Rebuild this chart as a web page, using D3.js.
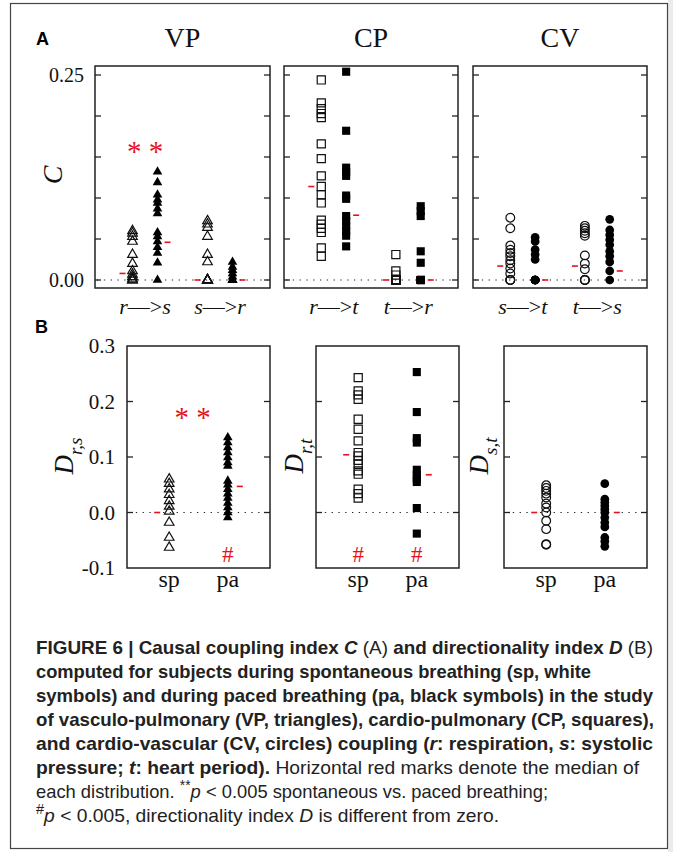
<!DOCTYPE html>
<html>
<head>
<meta charset="utf-8">
<script src="https://d3js.org/d3.v7.min.js"></script>
<style>
  body { margin: 0; background: #fff; }
  .serif { font-family: "Liberation Serif", "Times New Roman", serif; fill: #111; }
  .box { fill: none; stroke: #222; stroke-width: 1.5px; }
  .tick { stroke: #222; stroke-width: 1.3px; }
  .zero { stroke: #222; stroke-width: 1.2px; stroke-dasharray: 1.3,5.5; }
  .median { stroke: #e8101a; stroke-width: 1.6px; }
  .open { fill: none; stroke: #111; stroke-width: 1.2px; }
  .filled { fill: #000; stroke: none; }
  .cap { font-family: "Liberation Sans Narrow", "Liberation Sans", Arial, sans-serif; font-size: 18.5px; fill: #222; }
</style>
</head>
<body>
<svg width="673" height="852"></svg>
<script>
// ---------- data : panel A, coupling index C ----------
var titlesA = ["VP", "CP", "CV"];
var catsA = [["r", "s", "s", "r"], ["r", "t", "t", "r"], ["s", "t", "t", "s"]]; // from,to pairs
var ticksA = [0, 0.05, 0.10, 0.15, 0.20, 0.25];
var tickLabelsA = ["0.00", "", "", "", "", "0.25"];

// VP (triangles)
var vpRS_sp = [0.060, 0.057, 0.053, 0.047, 0.031, 0.020, 0.011, 0.007, 0.004, 0.002, 0, 0];
var vpRS_pa = [0.132, 0.119, 0.104, 0.098, 0.094, 0.087, 0.081, 0.058, 0.053, 0.047, 0.040, 0.033, 0.021, 0];
var vpSR_sp = [0.072, 0.068, 0.064, 0.053, 0.031, 0.022, 0, 0, 0, 0, 0, 0, 0];
var vpSR_pa = [0.022, 0.016, 0.012, 0.008, 0.004, 0, 0, 0, 0, 0, 0];
var vpMedA = [0.008, 0.046, 0, 0];
// CP (squares)
var cpRT_sp = [0.244, 0.216, 0.209, 0.203, 0.198, 0.166, 0.148, 0.127, 0.114, 0.104, 0.094, 0.073, 0.068, 0.063, 0.058, 0.039, 0.029];
var cpRT_pa = [0.254, 0.182, 0.137, 0.132, 0.127, 0.103, 0.099, 0.078, 0.072, 0.066, 0.060, 0.054, 0.041];
var cpTR_sp = [0.031, 0.011, 0.006, 0, 0, 0, 0, 0, 0, 0];
var cpTR_pa = [0.090, 0.084, 0.078, 0.035, 0.021, 0, 0, 0, 0, 0, 0, 0];
var cpMedA = [0.114, 0.079, 0, 0];
// CV (circles)
var cvST_sp = [0.076, 0.063, 0.042, 0.037, 0.033, 0.029, 0.024, 0.020, 0.014, 0.008, 0, 0, 0];
var cvST_pa = [0.052, 0.047, 0.037, 0.031, 0.025, 0, 0, 0, 0, 0, 0, 0];
var cvTS_sp = [0.066, 0.063, 0.060, 0.057, 0.054, 0.030, 0.020, 0.013, 0, 0, 0];
var cvTS_pa = [0.074, 0.061, 0.055, 0.049, 0.043, 0.035, 0.029, 0.022, 0.011, 0];
var cvMedA = [0.017, 0, 0.017, 0.011];

// ---------- data : panel B, directionality index D ----------
var ylabB = [["r", "s"], ["r", "t"], ["s", "t"]];
var catsB = ["sp", "pa"];
var ticksB = [-0.1, 0, 0.1, 0.2, 0.3];
var tickLabelsB = ["-0.1", "0.0", "0.1", "0.2", "0.3"];
var vpB_sp = [0.060, 0.052, 0.042, 0.032, 0.021, 0.011, 0.002, -0.018, -0.045, -0.063];
var vpB_pa = [0.135, 0.126, 0.117, 0.108, 0.099, 0.090, 0.084, 0.057, 0.050, 0.042, 0.034, 0.026, 0.017, 0.009, 0, -0.009];
var cpB_sp = [0.243, 0.219, 0.212, 0.204, 0.168, 0.150, 0.129, 0.108, 0.102, 0.094, 0.087, 0.075, 0.069, 0.042, 0.034, 0.026];
var cpB_pa = [0.253, 0.181, 0.134, 0.126, 0.077, 0.068, 0.061, 0.055, 0.008, -0.038];
var cvB_sp = [0.049, 0.044, 0.039, 0.034, 0.027, 0.016, 0.009, 0, -0.015, -0.030, -0.057, -0.058];
var cvB_pa = [0.052, 0.024, 0.018, 0.012, 0.006, 0, -0.009, -0.018, -0.026, -0.045, -0.052, -0.061];
var vpMedB = [0, 0.047];
var cpMedB = [0.104, 0.068];
var cvMedB = [0, 0];

var svg = d3.select("svg");

// frame
svg.append("rect").attr("x", 668).attr("y", 0).attr("width", 5).attr("height", 852).attr("fill", "#ebebeb");
svg.append("rect").attr("x", 10.5).attr("y", 3.5).attr("width", 657).attr("height", 845)
  .attr("fill", "none").attr("stroke", "#444").attr("stroke-width", 1.2);

var shapes = [d3.symbolTriangle, d3.symbolSquare, d3.symbolCircle];
var sizes = [40, 66, 60];

function drawColumn(g, values, x, y, shape, size, filled) {
  g.selectAll(null).data(values).enter().append("path")
    .attr("class", filled ? "filled" : "open")
    .attr("transform", function(d) { return "translate(" + x + "," + y(d) + ")"; })
    .attr("d", d3.symbol().type(shape).size(size));
}

function frame(g, x, y, ticks, x0, x1, yTop, yBot) {
  g.append("line").attr("class", "zero")
    .attr("x1", x0 + 2).attr("x2", x1 - 2).attr("y1", y(0)).attr("y2", y(0));
  g.selectAll(null).data(ticks).enter().append("line").attr("class", "tick")
    .attr("x1", x0).attr("x2", x0 + 6).attr("y1", y).attr("y2", y);
  g.selectAll(null).data(ticks).enter().append("line").attr("class", "tick")
    .attr("x1", x1 - 6).attr("x2", x1).attr("y1", y).attr("y2", y);
  g.append("rect").attr("class", "box")
    .attr("x", x0).attr("y", yTop).attr("width", x1 - x0).attr("height", yBot - yTop);
}

function median(g, x, y, v, dir) {
  var cx = x + dir;
  g.append("line").attr("class", "median")
    .attr("x1", cx - 3).attr("x2", cx + 3).attr("y1", y(v)).attr("y2", y(v));
}

// ---------- panel A ----------
var boxesA = [[95, 270], [284, 458], [473, 647]];
var yA = d3.scaleLinear().domain([0, 0.25]).range([280, 75]);
var dataA = [[vpRS_sp, vpRS_pa, vpSR_sp, vpSR_pa], [cpRT_sp, cpRT_pa, cpTR_sp, cpTR_pa], [cvST_sp, cvST_pa, cvTS_sp, cvTS_pa]];
var medA = [vpMedA, cpMedA, cvMedA];
var posA = [1.5, 2.5, 4.5, 5.5];

svg.append("text").attr("x", 36).attr("y", 45)
  .style("font", "bold 18px 'Liberation Sans', Arial, sans-serif").text("A");

boxesA.forEach(function(b, i) {
  var g = svg.append("g");
  var x = d3.scaleLinear().domain([0, 7]).range(b);
  frame(g, x, yA, ticksA, b[0], b[1], 66, 288);
  dataA[i].forEach(function(vals, j) {
    drawColumn(g, vals, x(posA[j]), yA, shapes[i], sizes[i], j % 2 === 1);
    median(g, x(posA[j]), yA, medA[i][j], j % 2 === 1 ? 10 : -10);
  });
  g.append("text").attr("class", "serif").attr("x", (b[0] + b[1]) / 2).attr("y", 47)
    .attr("text-anchor", "middle").style("font-size", "28px").text(titlesA[i]);
  [0, 1].forEach(function(k) {
    var t = g.append("text").attr("class", "serif")
      .attr("x", x((posA[2 * k] + posA[2 * k + 1]) / 2)).attr("y", 314)
      .attr("text-anchor", "middle").style("font-size", "22px");
    t.append("tspan").style("font-style", "italic").text(catsA[i][2 * k]);
    t.append("tspan").text("\u2014>");
    t.append("tspan").style("font-style", "italic").text(catsA[i][2 * k + 1]);
  });
});

svg.append("g").selectAll("text").data(ticksA).enter().append("text").attr("class", "serif")
  .attr("x", 84).attr("y", yA).attr("dy", "0.35em").attr("text-anchor", "end")
  .style("font-size", "20px").text(function(d, i) { return tickLabelsA[i]; });

svg.append("text").attr("class", "serif").attr("transform", "translate(62,175) rotate(-90)")
  .attr("text-anchor", "middle").style("font-size", "28px").style("font-style", "italic").text("C");

svg.append("text").attr("class", "serif").attr("x", 145).attr("y", 161)
  .attr("text-anchor", "middle").style("font-size", "29px").style("fill", "#e8101a").text("* *");

// ---------- panel B ----------
var boxesB = [[127, 270], [316, 459], [504, 647]];
var yB = d3.scaleLinear().domain([-0.1, 0.3]).range([568, 346]);
var dataB = [[vpB_sp, vpB_pa], [cpB_sp, cpB_pa], [cvB_sp, cvB_pa]];
var medB = [vpMedB, cpMedB, cvMedB];
var labXB = [73, 303, 488];

svg.append("text").attr("x", 35).attr("y", 333)
  .style("font", "bold 18px 'Liberation Sans', Arial, sans-serif").text("B");

boxesB.forEach(function(b, i) {
  var g = svg.append("g");
  var x = d3.scalePoint().domain(catsB).range(b).padding(0.72);
  frame(g, x, yB, ticksB.slice(1, 4), b[0], b[1], 346, 568);
  dataB[i].forEach(function(vals, j) {
    drawColumn(g, vals, x(catsB[j]), yB, shapes[i], sizes[i], j === 1);
    median(g, x(catsB[j]), yB, medB[i][j], j === 1 ? 12 : -12);
  });
  g.selectAll(null).data(catsB).enter().append("text").attr("class", "serif")
    .attr("x", x).attr("y", 587).attr("text-anchor", "middle").style("font-size", "24px")
    .text(function(d) { return d; });
  var t = g.append("text").attr("class", "serif")
    .attr("transform", "translate(" + labXB[i] + ",456) rotate(-90)")
    .attr("text-anchor", "middle").style("font-style", "italic");
  t.append("tspan").style("font-size", "27px").text("D");
  t.append("tspan").attr("dy", 9).style("font-size", "19px").text(ylabB[i].join(","));
});

svg.append("g").selectAll("text").data(ticksB).enter().append("text").attr("class", "serif")
  .attr("x", 115).attr("y", yB).attr("dy", "0.35em").attr("text-anchor", "end")
  .style("font-size", "21px").text(function(d, i) { return tickLabelsB[i]; });

// significance marks
var xVpB = d3.scalePoint().domain(catsB).range(boxesB[0]).padding(0.72);
var xCpB = d3.scalePoint().domain(catsB).range(boxesB[1]).padding(0.72);
svg.append("text").attr("class", "serif").attr("x", (xVpB("sp") + xVpB("pa")) / 2 - 6).attr("y", 427)
  .attr("text-anchor", "middle").style("font-size", "29px").style("fill", "#e8101a").text("* *");
[xVpB("pa"), xCpB("sp"), xCpB("pa")].forEach(function(px) {
  svg.append("text").attr("class", "serif").attr("x", px).attr("y", 562)
    .attr("text-anchor", "middle").style("font-size", "23px").style("fill", "#e8101a").text("#");
});

// ---------- caption ----------
var capLines = [
  [["b", "FIGURE 6 | Causal coupling index "], ["bi", "C"], ["r", " (A) "], ["b", "and directionality index "], ["bi", "D"], ["r", " (B)"]],
  [["b", "computed for subjects during spontaneous breathing (sp, white"]],
  [["b", "symbols) and during paced breathing (pa, black symbols) in the study"]],
  [["b", "of vasculo-pulmonary (VP, triangles), cardio-pulmonary (CP, squares),"]],
  [["b", "and cardio-vascular (CV, circles) coupling ("], ["bi", "r"], ["b", ": respiration, "], ["bi", "s"], ["b", ": systolic"]],
  [["b", "pressure; "], ["bi", "t"], ["b", ": heart period)."], ["r", " Horizontal red marks denote the median of"]],
  [["r", "each distribution. "], ["sup", "**"], ["i", "p"], ["r", " < 0.005 spontaneous vs. paced breathing;"]],
  [["sup", "#"], ["i", "p"], ["r", " < 0.005, directionality index "], ["i", "D"], ["r", " is different from zero."]]
];
var capWidths = [617, 555, 617, 618, 617, 603, 512, 463];

capLines.forEach(function(line, i) {
  var t = svg.append("text").attr("class", "cap").attr("x", 36).attr("y", 654 + i * 24)
    .attr("textLength", capWidths[i]).attr("lengthAdjust", "spacingAndGlyphs");
  line.forEach(function(s) {
    var sp = t.append("tspan").text(s[1]);
    if (s[0] === "b" || s[0] === "bi") sp.style("font-weight", "bold");
    if (s[0] === "bi" || s[0] === "i") sp.style("font-style", "italic");
    if (s[0] === "sup") sp.style("font-size", "14px").attr("baseline-shift", "super");
  });
});
</script>
</body>
</html>
